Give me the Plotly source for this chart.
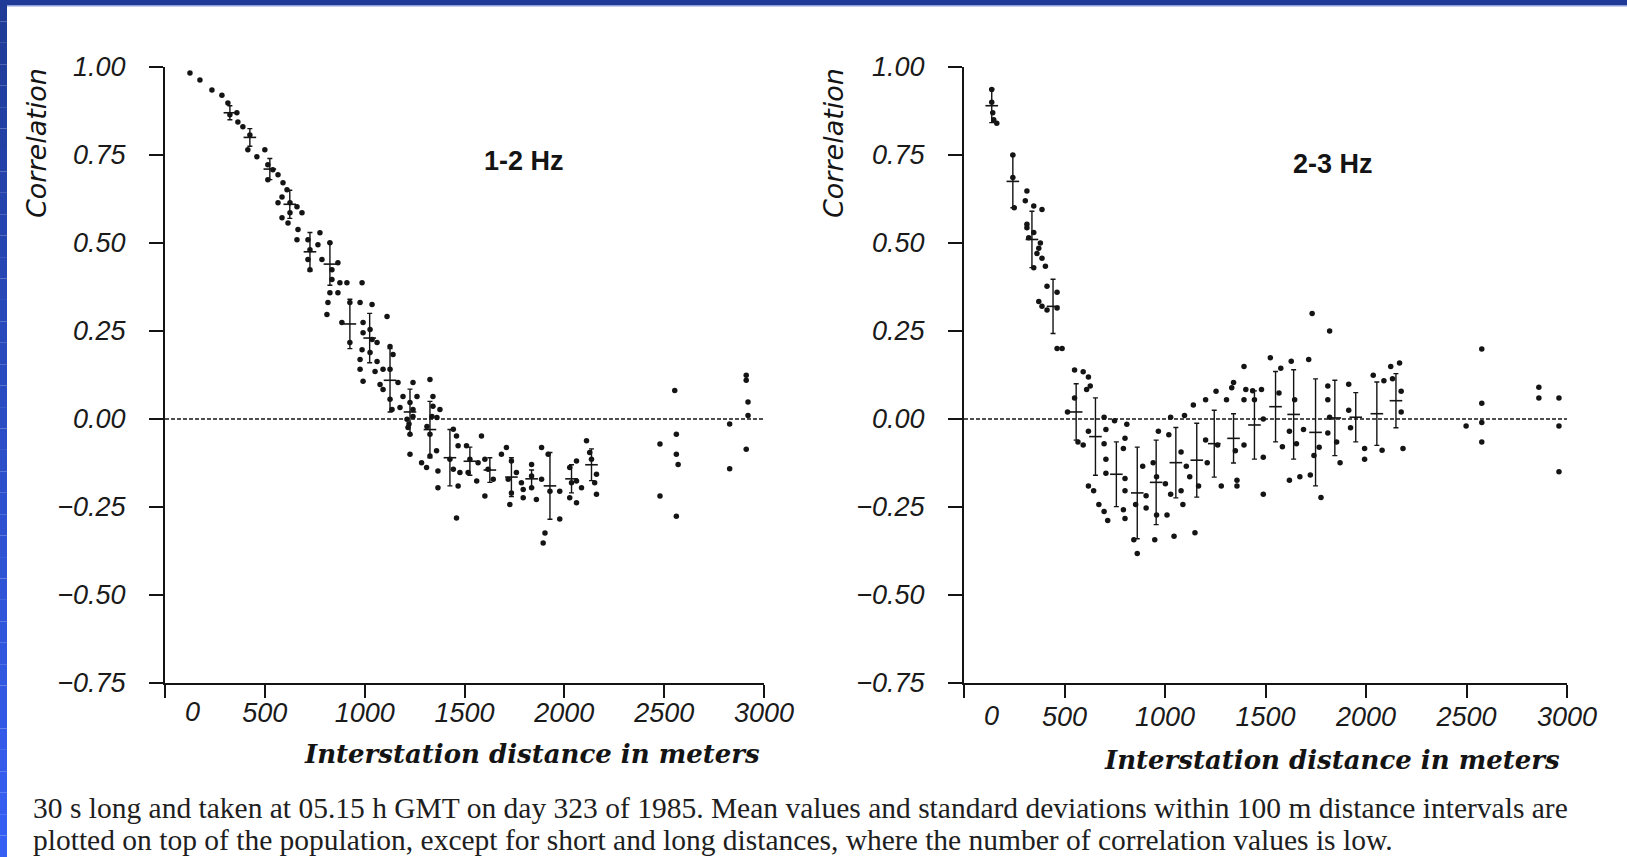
import plotly.graph_objects as go

# ---------------- data: 1-2 Hz panel ----------------
left_x = [125, 175, 235, 285, 315, 325, 360, 365, 390, 425, 415, 460, 500, 515, 540, 515, 566, 591,
          611, 586, 566, 626, 661, 686, 626, 586, 616, 666, 661, 716, 726, 776, 766, 716, 726, 786,
          826, 836, 866, 836, 876, 911, 987, 826, 866, 816, 811, 926, 977, 1037, 1112, 886, 992, 926,
          992, 1027, 1037, 1062, 987, 1027, 1127, 1142, 977, 1062, 977, 1052, 1092, 1127, 992, 1077,
          1092, 1167, 1242, 1327, 1127, 1192, 1262, 1177, 1137, 1227, 1342, 1242, 1342, 1377, 1212,
          1242, 1217, 1312, 1337, 1362,
          1227, 1227, 1222, 1327, 1327, 1360, 1285, 1310, 1367, 1367, 1444, 1427, 1460, 1468, 1444,
          1477, 1468, 1460, 1510, 1527, 1518, 1561, 1585, 1568, 1602, 1618, 1644, 1602, 1685, 1710,
          1735, 1719, 1735, 1727, 1760, 1785, 1794, 1794, 1836, 1836, 1836, 1860, 1886, 1886, 1919,
          1928, 1903, 1894, 1977, 1977, 2027, 2036, 2027, 2061, 2061, 2061, 2086, 2111, 2127, 2136,
          2161, 2152, 2161,
          2479, 2479, 2553, 2561, 2561, 2570, 2561, 2828, 2828, 2911, 2911, 2920, 2920, 2911]
left_y = [0.983, 0.963, 0.935, 0.92, 0.898, 0.864, 0.870, 0.844, 0.830, 0.807, 0.765, 0.745, 0.765,
          0.722, 0.708, 0.68, 0.694, 0.671, 0.651, 0.631, 0.614, 0.614, 0.603, 0.586, 0.586, 0.572,
          0.557, 0.538, 0.509, 0.509, 0.481, 0.529, 0.495, 0.453, 0.424, 0.453, 0.501, 0.424, 0.444,
          0.396, 0.387, 0.387, 0.387, 0.359, 0.359, 0.331, 0.297, 0.331, 0.331, 0.325, 0.291, 0.274,
          0.274, 0.217, 0.245, 0.254, 0.226, 0.217, 0.197, 0.189, 0.206, 0.183, 0.169, 0.163, 0.141,
          0.135, 0.141, 0.141, 0.107, 0.098, 0.084, 0.104, 0.104, 0.112, 0.056, 0.064, 0.064, 0.033,
          0.027, 0.047, 0.064, 0.027, 0.036, 0.027, -0.001, 0.007, -0.024, -0.021, 0.007, 0.004,
          -0.043, -0.1, -0.014, -0.043, -0.105, -0.09, -0.124, -0.138, -0.148, -0.195, -0.029, -0.114,
          -0.048, -0.076, -0.143, -0.152, -0.19, -0.281, -0.076, -0.114, -0.152, -0.176, -0.048,
          -0.124, -0.114, -0.143, -0.171, -0.219, -0.1, -0.081, -0.119, -0.171, -0.21, -0.243, -0.152,
          -0.181, -0.2, -0.224, -0.129, -0.162, -0.195, -0.229, -0.081, -0.171, -0.1, -0.205, -0.324,
          -0.352, -0.205, -0.284, -0.138, -0.181, -0.224, -0.119, -0.176, -0.238, -0.195, -0.062,
          -0.095, -0.114, -0.157, -0.181, -0.214,
          -0.071, -0.219, 0.081, -0.043, -0.1, -0.129, -0.276, -0.014, -0.141, 0.124, 0.11, 0.048,
          0.01, -0.086]

left_bar_x = [325, 425, 525, 625, 726, 826, 926, 1025, 1127, 1227, 1327, 1427, 1527, 1627, 1735,
              1836, 1928, 2036, 2136]
left_bar_mean = [0.87, 0.80, 0.71, 0.61, 0.475, 0.44, 0.27, 0.23, 0.11, 0.02, -0.03, -0.11, -0.12,
                 -0.145, -0.165, -0.17, -0.19, -0.17, -0.13]
left_bar_sd = [0.02, 0.025, 0.03, 0.04, 0.055, 0.06, 0.07, 0.07, 0.09, 0.065, 0.08, 0.08, 0.04,
               0.035, 0.055, 0.025, 0.095, 0.04, 0.045]

# ---------------- data: 2-3 Hz panel ----------------
right_x = [138, 138, 143, 148, 163, 243, 243, 250, 313, 305, 347, 388, 313, 313, 322, 347, 380, 372,
           363, 388, 405, 347, 413, 463, 372, 388, 413, 463, 463, 488,
           550, 593, 619, 610, 628, 550, 515, 567, 593, 619, 697, 706, 697, 706, 706, 619, 645, 671,
           697, 715, 749, 801, 793, 801, 801, 793, 801, 810, 845, 862, 854, 889, 906, 906, 941, 958,
           967, 958, 1010, 949, 1002, 1019, 1028, 1028, 1045, 1080, 1080, 1089, 1106, 1123, 1097,
           1141, 1149, 1167, 1202, 1202, 1210, 1254, 1262, 1280, 1306, 1332, 1341, 1350, 1358, 1358,
           1393, 1402, 1393, 1393, 1436, 1445, 1480, 1489, 1489, 1489, 1524, 1576, 1567, 1584, 1628,
           1619, 1619, 1645, 1654, 1671, 1689, 1715, 1723, 1741, 1767, 1776, 1810, 1810, 1810, 1819,
           1854, 1871, 1914, 1914, 1923, 1993, 1993, 2036, 2080, 2089, 2123, 2132, 2167, 2175, 2175,
           2184, 1732, 1819,
           2498, 2576, 2576, 2576, 2576, 2860, 2860, 2960, 2960, 2960]
right_y = [0.936, 0.90, 0.87, 0.85, 0.84, 0.75, 0.686, 0.60, 0.648, 0.62, 0.605, 0.595, 0.553, 0.543,
           0.515, 0.53, 0.50, 0.485, 0.47, 0.457, 0.434, 0.43, 0.377, 0.36, 0.334, 0.32, 0.31, 0.315,
           0.20, 0.20,
           0.139, 0.134, 0.119, 0.084, 0.094, 0.06, 0.02, -0.065, -0.074, -0.035, 0.005, -0.03, -0.07,
           -0.114, -0.154, -0.19, -0.204, -0.243, -0.263, -0.288, -0.005, -0.055, -0.084, -0.169,
           -0.204, -0.258, -0.283, -0.015, -0.343, -0.382, -0.243, -0.134, -0.218, -0.253, -0.124,
           -0.164, -0.035, -0.273, -0.273, -0.343, -0.184, -0.045, 0.005, -0.214, -0.333, -0.094,
           -0.204, -0.243, -0.134, -0.164, 0.01, 0.04, -0.323, -0.19, 0.055, -0.06, -0.124, 0.079,
           -0.074, -0.19, 0.055, 0.089, 0.104, -0.09, -0.174, -0.19, 0.149, 0.084, 0.055, -0.074,
           0.08, 0.055, 0.084, 0.0, -0.109, -0.214, 0.174, 0.144, 0.074, -0.079, 0.164, -0.035, -0.174,
           0.055, -0.07, -0.164, -0.03, 0.169, -0.159, -0.104, -0.08, -0.223, 0.094, 0.055, -0.04,
           0.005, -0.065, -0.124, 0.099, 0.025, -0.025, -0.084, -0.114, 0.124, -0.089, 0.109, 0.149,
           0.114, 0.159, 0.079, 0.02, -0.084, 0.30, 0.25,
           -0.02, 0.199, 0.045, -0.01, -0.065, 0.09, 0.06, 0.06, -0.02, -0.15]

right_bar_x = [138, 243, 338, 443, 558, 654, 758, 862, 956, 1054, 1158, 1245, 1341, 1445, 1550,
               1640, 1749, 1845, 1949, 2054, 2149]
right_bar_mean = [0.89, 0.675, 0.51, 0.32, 0.02, -0.05, -0.157, -0.21, -0.18, -0.124, -0.117,
                  -0.07, -0.055, -0.017, 0.035, 0.013, -0.038, 0.003, 0.005, 0.015, 0.052]
right_bar_sd = [0.048, 0.075, 0.08, 0.077, 0.08, 0.11, 0.092, 0.13, 0.12, 0.10, 0.105, 0.095,
                0.07, 0.097, 0.10, 0.127, 0.152, 0.107, 0.07, 0.09, 0.077]

x_ticks = [0, 500, 1000, 1500, 2000, 2500, 3000]
x_tick_text = ["", "500", "1000", "1500", "2000", "2500", "3000"]
y_ticks = [-0.75, -0.5, -0.25, 0.0, 0.25, 0.5, 0.75, 1.0]
y_tick_text = ["\u22120.75", "\u22120.50", "\u22120.25", "0.00", "0.25", "0.50", "0.75", "1.00"]
panel_labels = ["1-2 Hz", "2-3 Hz"]
x_title = "Interstation distance in meters"
y_title = "Correlation"
caption_1 = ("30 s long and taken at 05.15 h GMT on day 323 of 1985. Mean values and standard "
             "deviations within 100 m distance intervals are")
caption_2 = ("plotted on top of the population, except for short and long distances, where the "
             "number of correlation values is low.")

# ---------------- figure ----------------
W, H = 1627, 857
INK = "#141414"
fig = go.Figure()

panels = [
    (left_x, left_y, left_bar_x, left_bar_mean, left_bar_sd, "x", "y"),
    (right_x, right_y, right_bar_x, right_bar_mean, right_bar_sd, "x2", "y2"),
]
for px, py, bx, bm, bs, xa, ya in panels:
    fig.add_trace(go.Scatter(x=px, y=py, mode="markers", xaxis=xa, yaxis=ya,
                             marker=dict(color=INK, size=5.5), showlegend=False,
                             hoverinfo="skip"))
    fig.add_trace(go.Scatter(x=bx, y=bm, mode="markers", xaxis=xa, yaxis=ya,
                             marker=dict(symbol="line-ew", size=9,
                                         line=dict(color=INK, width=1.6)),
                             error_y=dict(type="data", array=bs, symmetric=True,
                                          color=INK, thickness=1.4, width=2.5),
                             showlegend=False, hoverinfo="skip"))
    # dashed zero reference line
    fig.add_shape(type="line", xref=xa, yref=ya, x0=0, x1=3000, y0=0, y1=0,
                  line=dict(color=INK, width=1.6, dash="4px,2px"))

tickfont = dict(family="Liberation Sans", size=27, color="#1a1a1a", style="italic")
common_x = dict(range=[0, 3000], showline=True, linecolor=INK, linewidth=2, ticks="outside",
                ticklen=13, tickwidth=2, tickcolor=INK, tickvals=x_ticks, ticktext=x_tick_text,
                tickfont=tickfont, showgrid=False, zeroline=False,
                fixedrange=True, automargin=False)
common_y = dict(range=[-0.75, 1.0], showline=True, linecolor=INK, linewidth=2, ticks="outside",
                ticklen=14, tickwidth=2, tickcolor=INK, tickvals=y_ticks, ticktext=y_tick_text,
                tickfont=tickfont, showgrid=False, zeroline=False, ticklabelstandoff=18,
                fixedrange=True, automargin=False)

y_dom = [1 - 683 / H, 1 - 67 / H]
fig.update_layout(
    width=W, height=H, autosize=False,
    margin=dict(l=0, r=0, t=0, b=0, pad=0, autoexpand=False),
    paper_bgcolor="white", plot_bgcolor="rgba(0,0,0,0)",
    xaxis=dict(domain=[165 / W, 764 / W], anchor="y", ticklabelstandoff=-8, **common_x),
    yaxis=dict(domain=y_dom, anchor="x", **common_y),
    xaxis2=dict(domain=[964 / W, 1567 / W], anchor="y2", ticklabelstandoff=-4, **common_x),
    yaxis2=dict(domain=y_dom, anchor="x2", **common_y),
)

ann = []
for xa, ylab, lab, hz_xy, tit_x, tit_y, corr_x in [
        ("x", 1 - 712 / H, panel_labels[0], (524, 161), 532, 754, 36),
        ("x2", 1 - 716 / H, panel_labels[1], (1333, 164), 1332, 760, 833)]:
    # the "0" tick label sits to the right of the axis corner
    ann.append(dict(text="0", xref=xa, yref="paper", x=0, y=ylab, xshift=27,
                    showarrow=False, font=tickfont, xanchor="center", yanchor="middle"))
    ann.append(dict(text=lab, xref="paper", yref="paper", x=hz_xy[0] / W, y=1 - hz_xy[1] / H,
                    showarrow=False, xanchor="center", yanchor="middle",
                    font=dict(family="Liberation Sans", size=27, color=INK, weight="bold")))
    ann.append(dict(text=x_title, xref="paper", yref="paper", x=tit_x / W, y=1 - tit_y / H,
                    showarrow=False, xanchor="center", yanchor="middle",
                    font=dict(family="DejaVu Serif", size=26, color=INK, weight="bold",
                              style="italic")))
    ann.append(dict(text=y_title, xref="paper", yref="paper", x=corr_x / W, y=1 - 143 / H,
                    showarrow=False, xanchor="center", yanchor="middle", textangle=-90,
                    font=dict(family="DejaVu Sans", size=27, color=INK, style="italic")))

capfont = dict(family="Liberation Serif", size=29.5, color="#1e1e1e")
ann.append(dict(text=caption_1, xref="paper", yref="paper", x=31 / W, y=1 - 808 / H,
                showarrow=False, xanchor="left", yanchor="middle", font=capfont))
ann.append(dict(text=caption_2, xref="paper", yref="paper", x=31 / W, y=1 - 840 / H,
                showarrow=False, xanchor="left", yanchor="middle", font=capfont))
fig.update_layout(annotations=ann)

# slide frame: dark top bar and a vertical blue gradient bar on the left
shapes = [
    dict(type="rect", xref="paper", yref="paper", x0=0, x1=1, y0=1 - 5 / H, y1=1,
         fillcolor="#1f3b97", line=dict(width=0), layer="above"),
    dict(type="rect", xref="paper", yref="paper", x0=0, x1=1, y0=1 - 6.5 / H, y1=1 - 5 / H,
         fillcolor="#8ea0da", line=dict(width=0), layer="above"),
]
n = 40
top_c, bot_c = (0x1f, 0x3b, 0x97), (0x36, 0x5f, 0xf4)
for i in range(n):
    t = i / (n - 1)
    c = tuple(round(a + (b - a) * t) for a, b in zip(top_c, bot_c))
    shapes.append(dict(type="rect", xref="paper", yref="paper", x0=0, x1=7 / W,
                       y0=1 - (i + 1) / n, y1=1 - i / n,
                       fillcolor="rgb(%d,%d,%d)" % c, line=dict(width=0), layer="above"))
fig.update_layout(shapes=list(fig.layout.shapes) + shapes)

fig.write_html("out.html",
               post_script="document.body.style.margin='0px';"
                           "document.body.style.overflow='hidden';")
